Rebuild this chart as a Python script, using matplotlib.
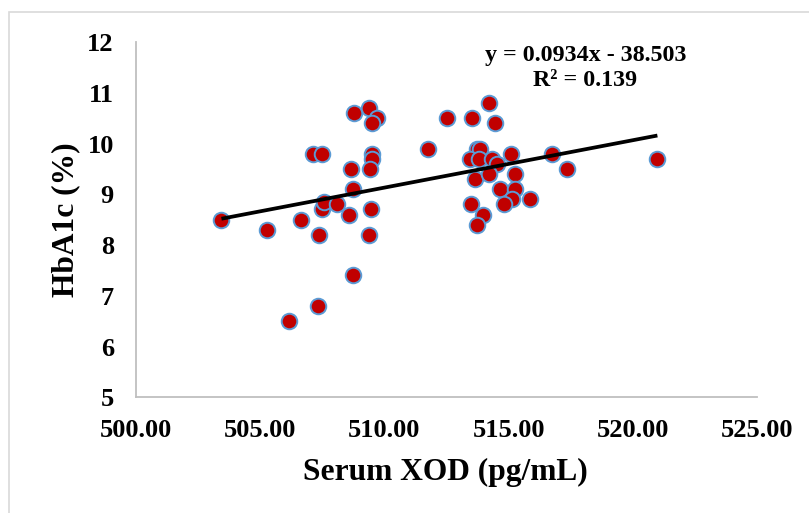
import matplotlib
matplotlib.use("Agg")
import matplotlib.pyplot as plt
from matplotlib.patches import Rectangle

# ---- data ----
xod = [503.44, 505.27, 506.66, 506.16, 507.33, 507.35, 507.14, 507.49, 507.49, 507.58,
       508.11, 508.56, 508.67, 508.75, 508.75, 508.78, 509.38, 509.69, 509.51, 509.50,
       509.50, 509.42, 509.47, 509.37, 511.77, 512.51, 513.54, 514.22, 514.44, 513.74,
       513.85, 513.45, 513.80, 514.32, 514.55, 515.09, 516.73, 517.35, 520.99, 513.63,
       514.22, 515.24, 514.65, 515.24, 515.14, 514.80, 515.87, 513.50, 513.98, 513.74]
hba1c = [8.5, 8.3, 8.5, 6.5, 6.8, 8.2, 9.8, 9.8, 8.7, 8.85,
         8.8, 8.6, 9.5, 9.1, 7.4, 10.6, 10.7, 10.5, 10.4, 9.8,
         9.7, 9.5, 8.7, 8.2, 9.9, 10.5, 10.5, 10.8, 10.4, 9.9,
         9.9, 9.7, 9.7, 9.7, 9.6, 9.8, 9.8, 9.5, 9.7, 9.3,
         9.4, 9.4, 9.1, 9.1, 8.9, 8.8, 8.9, 8.8, 8.6, 8.4]
slope = 0.0934
intercept = -38.503
r2 = 0.139
x_ticks = [500, 505, 510, 515, 520, 525]
y_ticks = [5, 6, 7, 8, 9, 10, 11, 12]

plt.rcParams['font.family'] = ['Liberation Serif', 'DejaVu Serif']
plt.rcParams['font.weight'] = 'bold'

fig = plt.figure(figsize=(8.09, 5.13), dpi=100)
fig.patch.set_facecolor('white')
fig.patches.append(Rectangle((9/809, -0.1), 2.0, (1 - 12/513) + 0.1, transform=fig.transFigure,
                             fill=False, edgecolor='#d9d9d9', linewidth=1.2))

ax = fig.add_axes([136/809, 1 - 397.3/513, (757 - 136)/809, (397.3 - 42)/513])
ax.set_xlim(500, 525)
ax.set_ylim(5, 12)

ax.scatter(xod, hba1c, s=11.2**2, c='#C00000', edgecolors='#5B9BD5', linewidths=1.4, zorder=3)

xmin, xmax = min(xod), max(xod)
ax.plot([xmin, xmax], [slope * xmin + intercept, slope * xmax + intercept],
        color='black', linewidth=2.7, zorder=4, solid_capstyle='butt')

ax.set_xticks(x_ticks)
ax.set_xticklabels([f"{v:.2f}" for v in x_ticks])
ax.set_yticks(y_ticks)
ax.set_yticklabels([str(v) for v in y_ticks])
ax.tick_params(axis='both', length=0, labelsize=19)
ax.tick_params(axis='y', pad=16)
ax.tick_params(axis='x', pad=15.5)
for lab in ax.get_xticklabels() + ax.get_yticklabels():
    lab.set_fontweight('bold')

for s in ['top', 'right']:
    ax.spines[s].set_visible(False)
for s in ['left', 'bottom']:
    ax.spines[s].set_color('#bfbfbf')
    ax.spines[s].set_linewidth(1.3)

fig.text(445/809, 1 - 472/513, "Serum XOD (pg/mL)", ha='center', va='center',
         fontsize=22.7, fontweight='bold')
fig.text(66/809, 1 - 219.5/513, "HbA1c (%)", ha='center', va='center', rotation=90,
         fontsize=22.7, fontweight='bold')

fig.text(585.5/809, 1 - 55.7/513, f"y = {slope}x - {abs(intercept)}", ha='center', va='center',
         fontsize=17.3, fontweight='bold')
fig.text(585.5/809, 1 - 80/513, f"R² = {r2}", ha='center', va='center',
         fontsize=17.3, fontweight='bold')

fig.savefig("out.png", dpi=100)
